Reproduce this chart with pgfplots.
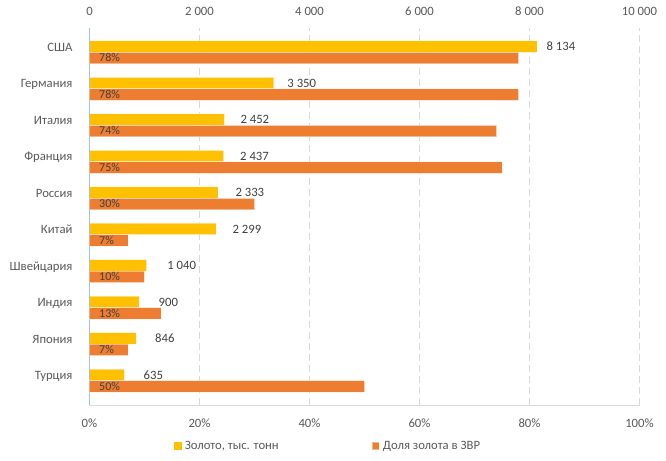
\documentclass[border=0pt]{standalone}
\usepackage{fontspec}
\setmainfont{Carlito}
\usepackage{pgfplots}
\usepackage{pgfplotstable}
\pgfplotsset{compat=1.18}

\definecolor{goldbar}{HTML}{FFC000}
\definecolor{sharebar}{HTML}{ED7D31}
\definecolor{gridgray}{HTML}{D9D9D9}
\definecolor{ticktext}{HTML}{595959}
\definecolor{labeltext}{HTML}{404040}
\definecolor{leftline}{HTML}{9DC3E6}

% y: 0 = bottom row (Турция) ... 9 = top row (США)
% gold: тыс. тонн; pct: доля золота в ЗВР, %; off: label gap after the gold bar (bp)
\pgfplotstableread{
y gold pct off
9 8134 78 9.5
8 3350 78 13.5
7 2452 74 16
6 2437 75 16.5
5 2333 30 17.5
4 2299 7 16.5
3 1040 10 20.5
2 900 13 19.5
1 846 7 19
0 635 50 19
}\golddata

\newcommand{\mainfont}{\fontsize{12.7bp}{15bp}\selectfont}
\newcommand{\smallfont}{\fontsize{12bp}{14bp}\selectfont}

\pgfplotsset{
  common/.style={
    at={(0,0)}, anchor=south west,
    scale only axis, width=550bp, height=377bp,
    ymin=-0.665, ymax=9.665,
    major tick length=0pt,
    /pgf/number format/assume math mode=true,
    tick label style={font=\mainfont, text=ticktext},
  },
  sq legend/.style={
    legend image code/.code={\fill[##1] (0bp,-3.65bp) rectangle (7.3bp,3.65bp);}
  },
}

\begin{document}
\begin{tikzpicture}
\path[use as bounding box] (-89.5bp,-56bp) rectangle (576.5bp,405bp);

% Upper axis: gold holdings
\begin{axis}[
  common,
  xmin=0, xmax=10000,
  axis line style={draw=none},
  xticklabel pos=upper,
  xtick={0,2000,4000,6000,8000,10000},
  xticklabels={0,2\ 000,4\ 000,6\ 000,8\ 000,10\ 000},
  xticklabel style={anchor=center, yshift=16.8bp},
  ytick=\empty,
  xmajorgrids,
  major grid style={draw=gridgray, line width=0.75bp, dash pattern=on 7bp off 4bp},
]
\addplot[xbar, bar width=11.5bp, bar shift=5.75bp, fill=goldbar,
  draw=white, draw opacity=0.45, line width=0.6bp]
  table[x=gold, y=y] {\golddata};
\addplot[draw=none, mark=none,
  point meta=explicit,
  visualization depends on={\thisrow{off} \as \labeloff},
  nodes near coords={\pgfmathprintnumber[1000 sep={\ }]{\pgfplotspointmeta}},
  nodes near coords style={font=\mainfont, text=labeltext, inner sep=0pt,
    anchor=base west, xshift=\labeloff bp, yshift=1.6bp}]
  table[x=gold, y=y, meta=gold] {\golddata};
\end{axis}

% Lower axis: share of gold in reserves
\begin{axis}[
  common,
  xmin=0, xmax=100,
  axis x line*=bottom, axis y line*=left,
  x axis line style={draw=gridgray, line width=0.75bp, -},
  y axis line style={draw=leftline, line width=0.75bp, -},
  xtick={0,20,40,60,80,100},
  xticklabels={0\%,20\%,40\%,60\%,80\%,100\%},
  xticklabel style={anchor=center, yshift=-18bp},
  ytick={0,...,9},
  yticklabels={Турция,Япония,Индия,Швейцария,Китай,Россия,Франция,Италия,Германия,США},
  yticklabel style={anchor=base east, inner sep=0pt, xshift=-16.8bp, yshift=1.1bp},
  legend columns=2,
  legend style={at={(0.4322,-0.1088)}, anchor=center, draw=none, fill=none,
    font=\mainfont, text=ticktext, inner sep=0pt,
    nodes={inner sep=0pt},
    /tikz/every odd column/.append style={column sep=3.3bp},
    /tikz/every even column/.append style={column sep=93bp}},
]
\addlegendimage{sq legend, fill=goldbar, draw=none}
\addlegendentry{Золото, тыс. тонн}
\addplot[xbar, bar width=11.5bp, bar shift=-5.75bp, fill=sharebar,
  draw=white, draw opacity=0.45, line width=0.6bp, sq legend]
  table[x=pct, y=y] {\golddata};
\addlegendentry{Доля золота в ЗВР}
\addplot[draw=none, mark=none, forget plot,
  point meta=explicit,
  nodes near coords={\pgfmathprintnumber{\pgfplotspointmeta}\%},
  nodes near coords style={font=\smallfont, text=labeltext, inner sep=0pt,
    anchor=base west, xshift=9.5bp, yshift=-9.6bp}]
  table[x expr=0, y=y, meta=pct] {\golddata};
\end{axis}
\end{tikzpicture}
\end{document}
